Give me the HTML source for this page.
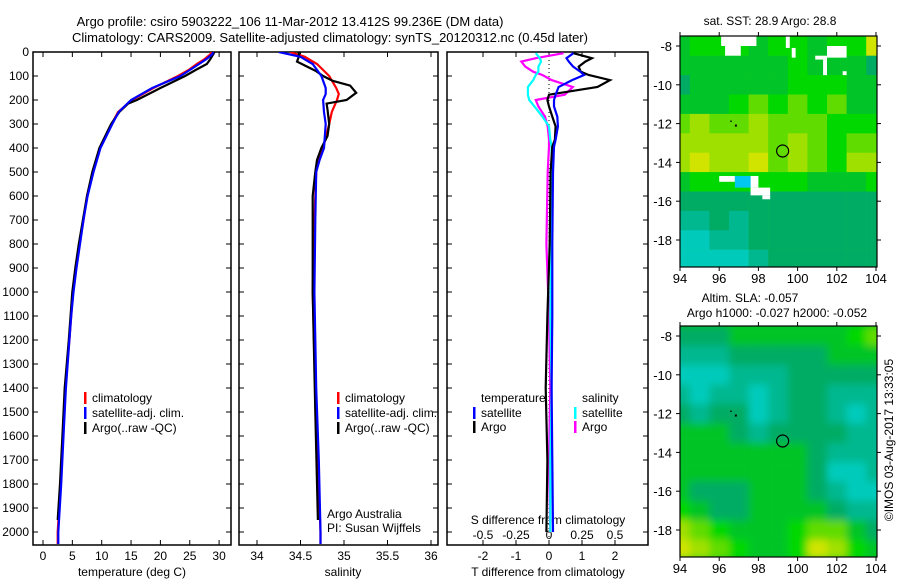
<!DOCTYPE html>
<html><head><meta charset="utf-8"><style>
body{margin:0;background:#fff;}
svg{display:block;font-family:"Liberation Sans",sans-serif;font-size:12px;}
</style></head><body>
<svg id="c" width="900" height="580" viewBox="0 0 900 580">
<text x="290" y="26" text-anchor="middle" font-size="13">Argo profile: csiro 5903222_106 11-Mar-2012 13.412S 99.236E (DM data)</text>
<text x="330" y="42" text-anchor="middle" font-size="13">Climatology: CARS2009. Satellite-adjusted climatology: synTS_20120312.nc (0.45d later)</text>
<defs>
<clipPath id="cp1"><rect x="33" y="52" width="198" height="493"/></clipPath>
<clipPath id="cp2"><rect x="239" y="52" width="199" height="493"/></clipPath>
<clipPath id="cp3"><rect x="447" y="52" width="201" height="493"/></clipPath>
<clipPath id="cm1"><rect x="680" y="36" width="197" height="231"/></clipPath>
<clipPath id="cm2"><rect x="680" y="326" width="197" height="231"/></clipPath>
<filter id="bl" x="-5%" y="-5%" width="110%" height="110%"><feGaussianBlur stdDeviation="4"/></filter>
</defs>
<g id="g"></g>
</svg>
<script>
// ---------- data ----------
const depthT = [0,10,30,50,75,100,150,200,250,300,400,500,600,700,800,900,1000,1100,1200,1400,1600,1800,2000,2050];
const tempClim = [28.7,28.5,27.5,26.2,24.8,23.0,18.8,15.2,12.8,11.7,9.7,8.5,7.5,6.9,6.2,5.6,5.1,4.8,4.5,3.8,3.4,3.0,2.5,2.5];
const tempSat  = [29.0,28.8,27.8,26.6,25.0,23.4,18.6,15.0,12.9,11.8,9.8,8.6,7.6,6.9,6.3,5.7,5.2,4.8,4.5,3.9,3.5,3.1,2.6,2.6];
const depthArgoT = [0,10,30,50,75,100,150,175,200,215,250,300,400,500,600,700,800,900,1000,1200,1400,1600,1800,1950];
const tempArgo = [29.2,29.0,28.5,27.9,26.0,24.2,20.0,18.0,16.0,14.5,13.0,11.6,9.6,8.4,7.5,6.8,6.1,5.5,5.0,4.4,3.7,3.3,2.9,2.5];
const depthS = [0,20,50,100,150,175,200,250,300,400,450,500,700,1000,1400,1700,2000,2050];
const salClim = [34.38,34.55,34.69,34.83,34.91,34.94,34.92,34.86,34.83,34.76,34.71,34.68,34.66,34.64,34.67,34.70,34.73,34.73];
const salSat  = [34.25,34.50,34.64,34.74,34.79,34.79,34.76,34.77,34.79,34.77,34.72,34.68,34.67,34.66,34.68,34.71,34.73,34.73];
const depthArgoS = [0,20,40,60,80,100,120,140,170,200,215,240,300,350,400,450,500,600,1000,1500,1950];
const salArgo = [34.48,34.48,34.46,34.57,34.68,34.76,34.87,35.07,35.14,35.03,34.80,34.81,34.83,34.81,34.74,34.69,34.67,34.64,34.64,34.67,34.70];
const depthD = [5,26,40,61,82,96,117,146,178,200,227,269,310,365,394,500,800,1100,1400,1700,2000];
const tDiffSat  = [0.74,0.53,0.60,0.73,0.95,1.06,0.70,0.29,0.20,0.15,0.15,0.25,0.27,0.20,0.15,0.12,0.10,0.10,0.08,0.10,0.12];
const tDiffArgo = [0.74,1.30,1.10,0.90,0.96,1.20,1.85,1.47,0.00,-0.05,0.00,0.10,0.20,0.18,0.10,0.05,0.02,-0.05,-0.10,-0.05,-0.08];
const sDiffSat  = [-0.10,-0.07,-0.06,-0.08,-0.08,-0.10,-0.12,-0.16,-0.16,-0.15,-0.11,-0.05,0.00,0.01,0.02,0.02,0.02,0.01,0.02,0.01,0.01];
const sDiffArgo = [0.11,-0.10,-0.21,-0.18,-0.12,-0.05,0.02,0.18,0.12,-0.10,-0.08,-0.03,-0.01,0.00,0.00,-0.01,-0.02,0.00,0.01,0.00,0.01];
const depthTicks = [0,100,200,300,400,500,600,700,800,900,1000,1100,1200,1300,1400,1500,1600,1700,1800,1900,2000];
const tempTicks = [0,5,10,15,20,25,30];
const salTicks = [34,34.5,35,35.5,36];
const tdTicks = [-2,-1,0,1,2];
const sdTicks = [-0.5,-0.25,0,0.25,0.5];
const lonTicks = [94,96,98,100,102,104];
const latTicks = [-8,-10,-12,-14,-16,-18];
const mapLons = [94,95,96,97,98,99,100,101,102,103,104];
const mapLats = [-7.5,-8.5,-9.5,-10.5,-11.5,-12.5,-13.5,-14.5,-15.5,-16.5,-17.5,-18.5];
const sstRows = ["45554554558","44444454443","34444455544","44456565644","67667666555","77777676566","78778676577","45555554445","33333333333","22323333333","11223333333","11112333333"];
const slaRows = ["33344444456","22233333444","11122233333","21221233222","32331233212","44432333322","44444443222","44444443112","43334443211","54334444322","76544456643","87654458754"];
const sstGaps = [[96.1,97.9,-7.5,-8.0],[96.3,97.1,-8.0,-8.5],[99.4,99.6,-7.5,-8.1],[99.7,99.9,-8.1,-8.6],[101.5,102.5,-8.0,-8.6],[100.9,101.5,-8.5,-8.7],[101.3,101.5,-8.7,-9.5],[102.3,102.5,-9.3,-9.5],[96.0,96.8,-14.7,-15.0],[97.6,98.0,-14.7,-15.3],[97.6,98.6,-15.3,-15.7],[98.2,98.6,-15.7,-15.9]];
const argoLon = [99.236];
const argoLat = [-13.412];
const palette = ["#00d8d0","#00cbbb","#00b890","#00ac64","#00c428","#00d800","#60dc00","#a0e000","#d0e400","#f0e800"];

// ---------- scales ----------
const yD = d => 52 + d*0.24;
const xT = t => 43 + t*5.87;
const xS = s => 257 + (s-34)*87;
const xTD = v => 549 + v*33;
const xSD = v => 549 + v*132;
const mx = lon => 680 + (lon-94)*19.6;
const my1 = lat => 46 + (-8-lat)*19.4;
const my2 = lat => 336 + (-8-lat)*19.4;

const NS="http://www.w3.org/2000/svg";
const G=document.getElementById('g');
function mk(tag,attrs,parent){const e=document.createElementNS(NS,tag);for(const k in attrs)e.setAttribute(k,attrs[k]);(parent||G).appendChild(e);return e;}
function txt(x,y,s,anchor,parent){const e=mk('text',{x:x,y:y,'text-anchor':anchor||'start'},parent);e.textContent=s;return e;}

// ---------- profile panels ----------
const panels=[[33,231,'cp1'],[239,438,'cp2'],[447,648,'cp3']];
panels.forEach((p,i)=>{
  const r=mk('rect',{x:p[0],y:52,width:p[1]-p[0],height:493,fill:'none',stroke:'#000','stroke-width':1.5});
  
  
  depthTicks.forEach(d=>{
    mk('line',{x1:p[0],x2:p[0]+5,y1:yD(d),y2:yD(d),stroke:'#000'});
    mk('line',{x1:p[1],x2:p[1]-5,y1:yD(d),y2:yD(d),stroke:'#000'});
  });
});
depthTicks.forEach(d=>{
  const t=txt(29,yD(d)+4,String(d),'end');
  
  
});
function xTicks(vals,f,lab,top){
  vals.forEach(v=>{
    const x=f(v);
    if(top){mk('line',{x1:x,x2:x,y1:52,y2:57,stroke:'#000'});}
    mk('line',{x1:x,x2:x,y1:545,y2:540,stroke:'#000'});
    if(lab){const t=txt(x,560,String(v),'middle');
      
      }
  });
}
xTicks(tempTicks,xT,true,true);
xTicks(salTicks,xS,true,true);
xTicks(tdTicks,xTD,true,true);
[[132,'temperature (deg C)','temperature-axis-title'],[343,'salinity','salinity-axis-title'],[548,'T difference from climatology','t-diff-axis-title']].forEach(a=>{
  const t=txt(a[0],576,a[1],'middle');
  
  
});
{const t=txt(548,524,'S difference from climatology','middle');

}
sdTicks.forEach(v=>{const t=txt(xSD(v),539,String(v),'middle');
  
  });

function line(xs,ds,fx,color,clip,name,w){
  const pts=xs.map((v,i)=>fx(v).toFixed(1)+','+yD(ds[i]).toFixed(1)).join(' ');
  const e=mk('polyline',{points:pts,fill:'none',stroke:color,'stroke-width':w||2.2,'clip-path':'url(#'+clip+')'});
  
  
}
line(tempClim,depthT,xT,'#f00','cp1','temp-climatology-line');
line(tempArgo,depthArgoT,xT,'#000','cp1','temp-argo-line');
line(tempSat,depthT,xT,'#00f','cp1','temp-satellite-line');
line(salClim,depthS,xS,'#f00','cp2','salinity-climatology-line');
line(salArgo,depthArgoS,xS,'#000','cp2','salinity-argo-line');
line(salSat,depthS,xS,'#00f','cp2','salinity-satellite-line');
{const z=mk('line',{x1:549,x2:549,y1:52,y2:545,stroke:'#000','stroke-dasharray':'1,3'});

}
line(sDiffArgo,depthD,xSD,'#f0f','cp3','s-diff-argo-line');
line(sDiffSat,depthD,xSD,'#0ff','cp3','s-diff-satellite-line');
line(tDiffArgo,depthD,xTD,'#000','cp3','t-diff-argo-line');
line(tDiffSat,depthD,xTD,'#00f','cp3','t-diff-satellite-line');

function leg(x,y,color,label){
  mk('rect',{x:x,y:y-10,width:2.5,height:12,fill:color});
  const t=txt(x+8,y,label);
  
  
}
[[84,'#f00','climatology'],[84,'#00f','satellite-adj. clim.'],[84,'#000','Argo(..raw -QC)']].forEach((l,i)=>leg(l[0],402+i*15,l[1],l[2]));
[[337,'#f00','climatology'],[337,'#00f','satellite-adj. clim.'],[337,'#000','Argo(..raw -QC)']].forEach((l,i)=>leg(l[0],402+i*15,l[1],l[2]));
{const t=txt(481,402,'temperature');
const t2=txt(582,402,'salinity');}
leg(473,417,'#00f','satellite');leg(473,431,'#000','Argo');
leg(574,417,'#0ff','satellite');leg(574,431,'#f0f','Argo');
{const a=txt(327,518,'Argo Australia');
const b=txt(327,532,'PI: Susan Wijffels');}

// ---------- maps ----------
function drawMap(rows,my,clip,name,blur,top,bottom){
  const g=mk('g',{'clip-path':'url(#'+clip+')'});
  
  
  mk('rect',{x:680,y:top,width:197,height:bottom-top,fill:palette[rows[6].charCodeAt(5)-48]},g);
  const inner=mk('g',blur?{filter:'url(#bl)'}:{},g);
  rows.forEach((row,ri)=>{
    for(let ci=0;ci<row.length;ci++){
      const lv=row.charCodeAt(ci)-48;
      const lon=mapLons[ci],lat=mapLats[ri];
      const c=mk('rect',{x:mx(lon-0.5),y:my(lat),width:19.8,height:19.6,fill:palette[lv]},inner);
      
      
    }
  });
  return g;
}
const m1=drawMap(sstRows,my1,'cm1','sst-map',false,36,267);
sstGaps.forEach(r=>{mk('rect',{x:mx(r[0]),y:my1(r[2]),width:mx(r[1])-mx(r[0]),height:my1(r[3])-my1(r[2]),fill:'#fff'},m1);});
mk('rect',{x:mx(96.8),y:my1(-14.7),width:mx(97.6)-mx(96.8),height:my1(-15.3)-my1(-14.7),fill:'#00c8f0'},m1);
drawMap(slaRows,my2,'cm2','sla-map',true,326,557);

function mapFrame(my,top,bottom,name){
  const r=mk('rect',{x:680,y:top,width:197,height:bottom-top,fill:'none',stroke:'#000','stroke-width':1.2});
  
  
  lonTicks.forEach(l=>{
    mk('line',{x1:mx(l),x2:mx(l),y1:top,y2:top-4,stroke:'#000'});
    mk('line',{x1:mx(l),x2:mx(l),y1:bottom,y2:bottom+4,stroke:'#000'});
    const t=txt(mx(l),bottom+16,String(l),'middle');t.setAttribute('font-size','13');
    
    
  });
  latTicks.forEach(l=>{
    mk('line',{x1:680,x2:676,y1:my(l),y2:my(l),stroke:'#000'});
    mk('line',{x1:877,x2:881,y1:my(l),y2:my(l),stroke:'#000'});
    const t=txt(672,my(l)+5,String(l),'end');t.setAttribute('font-size','13');
    
    
  });
  argoLon.forEach((lo,i)=>{
    const c=mk('circle',{cx:mx(lo),cy:my(argoLat[i]),r:6,fill:'none',stroke:'#000','stroke-width':1.2});
    
    
  });
  mk('rect',{x:mx(96.8),y:my(-12.05),width:2,height:2,fill:'#000'});
  mk('rect',{x:mx(96.55),y:my(-11.85),width:2,height:1,fill:'#000'});
}
mapFrame(my1,36,267,'sst-map-frame');
mapFrame(my2,326,557,'sla-map-frame');
{const t=txt(770,25,'sat. SST: 28.9 Argo: 28.8','middle');
const t2=txt(750,302,'Altim. SLA: -0.057','middle');
const t3=txt(777,317,'Argo h1000: -0.027 h2000: -0.052','middle');
const t4=txt(0,0,'©IMOS 03-Aug-2017 13:33:05','middle');t4.setAttribute('transform','translate(893,440) rotate(-90)');
}
</script>
</body></html>
